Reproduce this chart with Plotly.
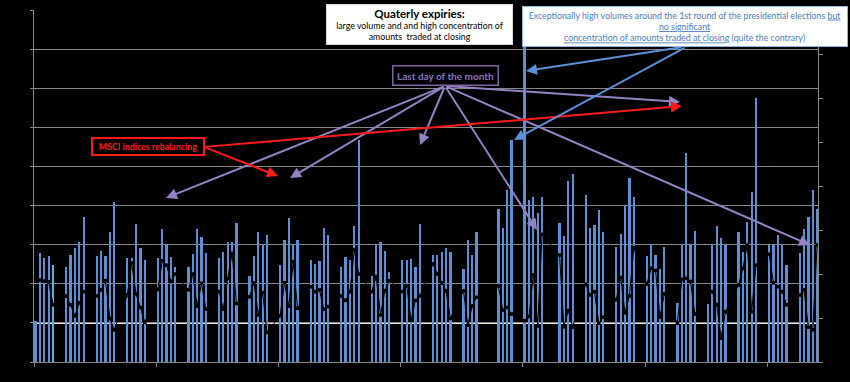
import pandas as pd
import plotly.graph_objects as go
from datetime import datetime, timedelta

# ---- data -------------------------------------------------------------
holidays = ["2017-04-14", "2017-04-17", "2017-05-01"]
dates = [d for d in pd.bdate_range("2017-01-02", "2017-06-30")
         if d.strftime("%Y-%m-%d") not in holidays]

# daily traded volume (left axis)
volume = [
    1.06, 2.79, 2.66, 2.70, 2.49,
    2.44, 2.74, 2.92, 3.06, 3.71,
    2.72, 2.84, 2.70, 3.32, 4.09,
    2.66, 2.66, 3.52, 2.92, 2.62,
    2.66, 3.40, 3.02, 2.68, 2.44,
    2.44, 2.75, 3.40, 3.19, 2.79,
    2.67, 2.82, 3.07, 3.07, 3.55,
    2.19, 2.72, 3.32, 3.00, 3.24,
    2.49, 3.13, 3.68, 2.98, 3.13,
    2.62, 2.51, 2.58, 3.42, 3.24,
    2.43, 2.68, 2.60, 3.48, 5.68,
    2.19, 2.98, 3.08, 2.83, 2.30,
    2.60, 2.61, 2.64, 2.43, 3.53,
    2.73, 2.73, 2.81, 2.92, 2.80,
    2.39, 3.13, 2.73, 3.32,
    3.92, 3.43, 4.40, 5.68,
    9.30, 4.13, 4.22, 3.81, 4.23,
    3.55, 3.23, 4.63, 4.81,
    4.26, 3.43, 3.50, 3.88, 3.32,
    2.94, 3.28, 3.98, 4.71, 4.22,
    2.70, 3.02, 2.74, 2.39, 2.94,
    1.51, 2.98, 5.35, 3.02, 3.34,
    1.49, 2.98, 3.49, 3.18, 2.98,
    3.32, 2.81, 3.59, 4.34, 6.75,
    2.98, 2.98, 3.24, 2.98, 2.47,
    2.79, 3.41, 3.71, 4.40, 3.92,
]

# share of amounts traded at closing (right axis, drawn in black)
closing_share = [
    2.00, 1.86, 1.84, 1.82, 1.30,
    1.50, 1.30, 1.05, 1.34, 1.60,
    1.50, 1.64, 1.85, 0.99, 0.73,
    1.52, 2.25, 1.55, 1.24, 0.90,
    1.65, 2.30, 2.20, 1.83, 2.00,
    1.64, 2.00, 1.27, 1.79, 1.20,
    1.60, 1.20, 1.90, 2.47, 1.33,
    1.48, 1.80, 1.07, 1.58, 0.67,
    1.05, 1.80, 1.27, 2.28, 1.22,
    1.71, 1.60, 1.64, 1.20, 1.26,
    1.50, 1.40, 1.60, 2.55, 2.00,
    1.60, 1.94, 1.07, 1.62, 1.85,
    1.60, 1.73, 0.95, 1.40, 1.50,
    2.23, 2.00, 1.80, 1.62, 0.99,
    1.62, 0.84, 1.27, 1.47,
    1.73, 1.18, 1.24, 1.09,
    0.94, 1.03, 1.98, 0.82, 2.90,
    2.43, 0.80, 1.17, 0.79,
    1.77, 1.52, 1.60, 0.88, 1.02,
    1.42, 1.92, 1.12, 1.50, 2.60,
    1.77, 2.13, 2.08, 1.02, 1.55,
    0.88, 1.88, 1.90, 1.83, 1.09,
    1.56, 1.60, 1.30, 0.54, 1.14,
    1.75, 2.13, 2.66, 1.14, 2.20,
    2.45, 1.80, 1.71, 1.60, 1.30,
    1.52, 1.64, 0.79, 0.73, 2.66,
]

bar_colors = ["#5b8fd6"] * len(volume)
bar_colors[4] = "#4fb6dc"

# ---- figure -----------------------------------------------------------
W, H = 850, 382
L, R, T, B = 34, 32, 10, 20
base = datetime(2017, 1, 2)
day0, day1 = -0.37, 179.2
x_range = [base + timedelta(days=day0), base + timedelta(days=day1)]
ppd = (W - L - R) / (day1 - day0)
Y_MAX = 9.0
ppv = (H - T - B) / Y_MAX


def xd(px):
    return (base + timedelta(days=day0 + (px - L) / ppd)).strftime("%Y-%m-%d %H:%M")


def yv(py):
    return (H - B - py) / ppv


def px_paper(px):
    return (px - L) / (W - L - R)


def py_paper(py):
    return (H - B - py) / (H - T - B)


fig = go.Figure()
fig.add_trace(go.Bar(x=dates, y=volume, marker_color=bar_colors,
                     marker_line_width=0, width=0.52 * 86400000,
                     hoverinfo="skip"))
fig.add_trace(go.Scatter(x=dates, y=closing_share, yaxis="y2", mode="lines+markers",
                         line=dict(color="black", width=1),
                         marker=dict(color="black", symbol="square", size=3.5),
                         hoverinfo="skip"))

grid = "#878787"
fig.update_layout(
    width=W, height=H, margin=dict(l=L, r=R, t=T, b=B),
    paper_bgcolor="black", plot_bgcolor="black", showlegend=False,
    font=dict(family="Lato, Liberation Sans, Arial", color="black"),
    xaxis=dict(type="date", range=x_range, showgrid=False, showticklabels=False,
               showline=True, linecolor=grid, linewidth=1, ticks="outside",
               ticklen=4, tickcolor=grid, tick0=x_range[0],
               dtick=28 * 86400000, zeroline=False),
    yaxis=dict(range=[0, Y_MAX], dtick=1, showgrid=True, gridcolor=grid,
               gridwidth=1, showticklabels=False, showline=True, linecolor=grid,
               ticks="outside", ticklen=3, tickcolor=grid, zeroline=False),
    yaxis2=dict(range=[0, 8], dtick=1, overlaying="y", side="right",
                showgrid=False, showticklabels=False, showline=True,
                linecolor=grid, ticks="outside", ticklen=4, tickcolor=grid,
                zeroline=False),
    bargap=0,
)

# highlighted reference line at 1
fig.add_shape(type="line", xref="paper", x0=0, x1=1, yref="y", y0=1, y1=1,
              line=dict(color="#ece6d2", width=2), layer="below")

ann = []


def arrow(tail, head, color, width=2):
    ann.append(dict(x=xd(head[0]), y=yv(head[1]), ax=xd(tail[0]), ay=yv(tail[1]),
                    xref="x", yref="y", axref="x", ayref="y", text="",
                    showarrow=True, arrowhead=2, arrowsize=1.1, arrowwidth=width,
                    arrowcolor=color, standoff=0, startstandoff=0))


purple = "#9382c4"
for head in [(166, 198), (290, 178), (420, 145), (537, 230), (680, 102), (810, 245)]:
    arrow((445, 86), head, purple)
for head in [(278, 176), (682, 106)]:
    arrow((204, 147), head, "#ff1a1a")
arrow((683, 47), (526, 71), "#5b8fd6")
arrow((686, 47), (514, 140), "#5b8fd6")

box = dict(xref="paper", yref="paper", showarrow=False, xanchor="center",
           yanchor="middle", align="center", borderpad=1)
ann.append(dict(box, x=px_paper(419.5), y=py_paper(24.5),
                text="<b><span style='font-size:11.5px'>Quaterly expiries:</span></b><br>"
                     "large volume and and high concentration of<br>"
                     "amounts  traded at closing",
                bgcolor="white", bordercolor="#d9d9d9", borderwidth=1,
                width=183, height=37, font=dict(size=8.8, color="black")))
ann.append(dict(box, x=px_paper(685), y=py_paper(26.8),
                text="Exceptionally high volumes around the 1st round of the presidential elections <u>but</u><br>"
                     "<u>no significant</u><br>"
                     "<u>concentration of amounts traded at closing</u> (quite the contrary)",
                bgcolor="white", bordercolor="#8eb4e3", borderwidth=1,
                width=322, height=37, font=dict(size=8.8, color="#4a7ebb")))
ann.append(dict(box, x=px_paper(445.5), y=py_paper(75.8),
                text="<b>Last day of the month</b>", bgcolor="black",
                bordercolor="#8064a2", borderwidth=1.5, width=102, height=16,
                font=dict(size=10, color="#8a74bf")))
ann.append(dict(box, x=px_paper(148), y=py_paper(146.7),
                text="<b>MSCI indices rebalancing</b>", bgcolor="black",
                bordercolor="#ff1a1a", borderwidth=2, width=108, height=13,
                font=dict(size=8.8, color="#ff1a1a")))
fig.update_layout(annotations=ann)

fig.write_html("out.html", config={"displayModeBar": False},
               post_script="document.body.style.margin='0';document.body.style.overflow='hidden';")
